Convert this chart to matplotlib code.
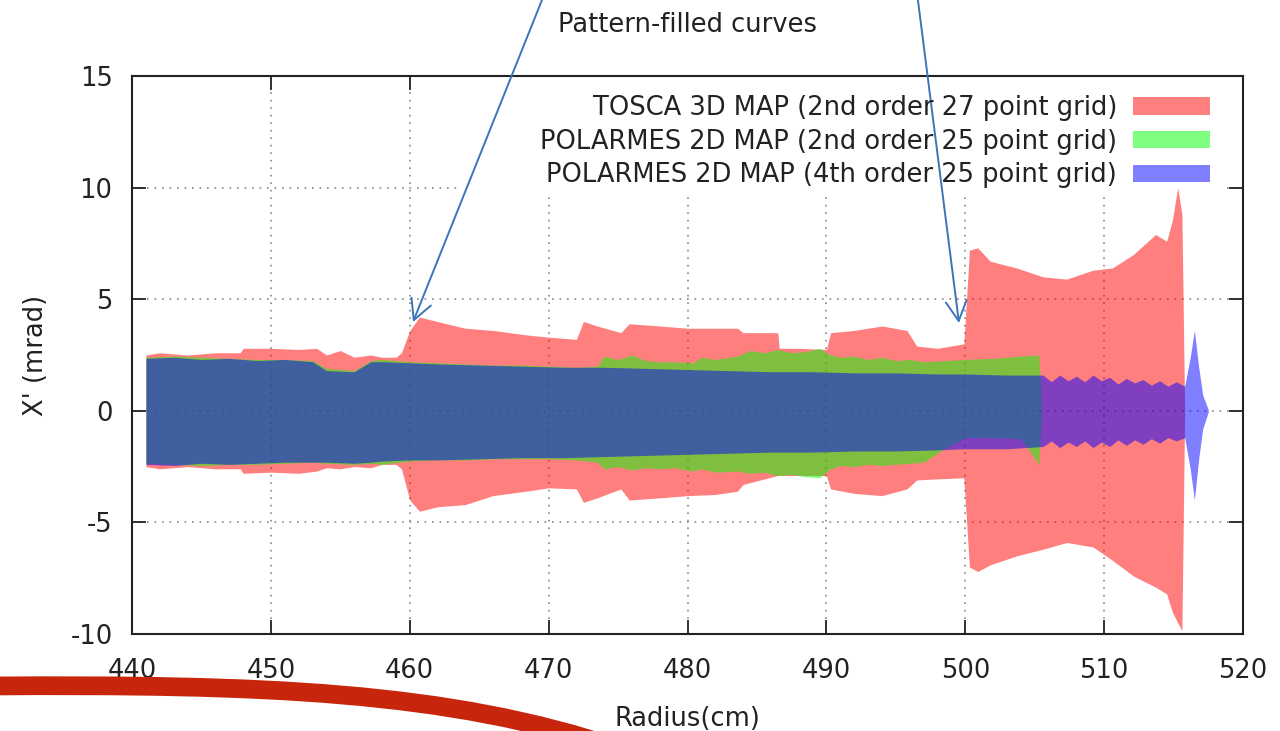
import matplotlib
matplotlib.use("Agg")
import matplotlib.pyplot as plt
from matplotlib.patches import Patch, Rectangle, PathPatch
from matplotlib.path import Path

# TOSCA 3D MAP (2nd order 27 point grid) - envelope of X'
tosca_x = [441.0, 442, 444, 446, 447.8, 448, 450, 452, 453.3, 454, 455, 456, 457.2, 458, 459.0, 459.4,
           460.0, 460.7, 462, 464, 466, 468.4, 470, 472.0, 472.5, 473.5, 475.2, 475.8, 478, 480, 482,
           483.6, 484, 486.5, 486.6, 488, 490.0, 490.3, 492, 494, 495.8, 496.5, 498, 499.9, 500.3,
           500.9, 501.8, 503.7, 505.6, 507.3, 509.2, 510.6, 512.1, 513.7, 514.5, 514.9, 515.3, 515.6, 515.8]
tosca_hi = [2.5, 2.6, 2.5, 2.6, 2.6, 2.8, 2.8, 2.75, 2.8, 2.5, 2.7, 2.4, 2.5, 2.4, 2.4, 2.6,
            3.6, 4.2, 4.0, 3.7, 3.6, 3.4, 3.3, 3.2, 4.0, 3.8, 3.5, 3.9, 3.8, 3.7, 3.7,
            3.7, 3.5, 3.5, 2.8, 2.8, 2.75, 3.5, 3.6, 3.8, 3.6, 2.9, 2.8, 3.0, 7.2,
            7.3, 6.7, 6.4, 6.0, 5.9, 6.3, 6.4, 7.0, 7.9, 7.6, 8.5, 10.0, 8.8, 0.0]
tosca_lo = [-2.5, -2.6, -2.5, -2.6, -2.6, -2.8, -2.75, -2.8, -2.7, -2.55, -2.6, -2.5, -2.55, -2.4, -2.4, -2.6,
            -4.0, -4.5, -4.3, -4.2, -3.8, -3.6, -3.45, -3.5, -4.1, -3.9, -3.5, -4.0, -3.9, -3.8, -3.75,
            -3.6, -3.3, -2.9, -2.9, -2.9, -2.9, -3.5, -3.7, -3.8, -3.5, -3.1, -3.05, -3.0, -7.0,
            -7.2, -6.9, -6.5, -6.2, -5.9, -6.1, -6.7, -7.4, -7.9, -8.2, -9.0, -9.5, -9.85, 0.0]

# POLARMES 2D MAP (2nd order 25 point grid)
pol2_x = [441.0, 443, 445, 447, 449, 451, 453, 454, 456, 457.2, 458, 460, 462, 464, 466, 468, 470, 472,
          473.5, 474, 475, 476, 477, 478, 479, 480.4, 481, 482, 483.6, 484.5, 485.5, 486.5, 487.5,
          488.5, 489.5, 490.3, 491, 492, 493, 494, 495, 496, 497, 498.5, 500, 502, 504, 505.3, 505.5]
pol2_hi = [2.4, 2.45, 2.4, 2.35, 2.3, 2.3, 2.25, 1.9, 1.8, 2.25, 2.3, 2.2, 2.15, 2.1, 2.05, 2.05, 2.0, 1.95,
           2.0, 2.45, 2.3, 2.5, 2.25, 2.2, 2.2, 2.15, 2.4, 2.3, 2.45, 2.7, 2.6, 2.75, 2.6,
           2.65, 2.8, 2.5, 2.4, 2.45, 2.3, 2.4, 2.25, 2.3, 2.2, 2.25, 2.3, 2.35, 2.45, 2.5, 0.0]
pol2_lo = [-2.35, -2.4, -2.45, -2.4, -2.4, -2.35, -2.3, -2.35, -2.4, -2.35, -2.4, -2.25, -2.2, -2.2, -2.15,
           -2.15, -2.15, -2.2, -2.3, -2.6, -2.5, -2.65, -2.55, -2.6, -2.55, -2.7, -2.6, -2.75, -2.7, -2.8,
           -2.75, -2.9, -2.85, -2.95, -3.0, -2.6, -2.45, -2.5, -2.4, -2.45, -2.4, -2.35, -2.3, -1.7, -1.2,
           -1.2, -1.25, -2.4, 0.0]

# POLARMES 2D MAP (4th order 25 point grid)
pol4_x = [441.0, 443, 445, 447, 449, 451, 453, 454, 456, 457.2, 458, 460, 462, 465, 468, 471, 474, 477,
          480, 483, 486, 489, 492, 495, 498, 500, 503, 505.6, 506.2, 506.8, 507.4, 508, 508.6, 509.2,
          509.8, 510.4, 511, 511.6, 512.2, 512.8, 513.4, 514, 514.6, 515.2, 515.8, 516.2, 516.5, 516.8,
          517.1, 517.5]
pol4_hi = [2.35, 2.4, 2.3, 2.35, 2.25, 2.3, 2.2, 1.8, 1.75, 2.2, 2.2, 2.15, 2.1, 2.05, 2.0, 1.95, 1.95, 1.9,
           1.85, 1.8, 1.75, 1.75, 1.7, 1.7, 1.65, 1.65, 1.6, 1.6, 1.3, 1.6, 1.35, 1.55, 1.3, 1.6,
           1.35, 1.5, 1.2, 1.45, 1.25, 1.4, 1.15, 1.35, 1.1, 1.3, 1.1, 2.4, 3.6, 2.0, 0.7, 0.05]
pol4_lo = [-2.4, -2.45, -2.35, -2.4, -2.35, -2.3, -2.3, -2.3, -2.35, -2.3, -2.25, -2.2, -2.2, -2.15, -2.1,
           -2.1, -2.05, -2.0, -1.95, -1.9, -1.85, -1.85, -1.8, -1.8, -1.75, -1.7, -1.7, -1.6, -1.35, -1.65,
           -1.4, -1.6, -1.35, -1.65, -1.4, -1.6, -1.3, -1.55, -1.3, -1.5, -1.25, -1.45, -1.2, -1.35, -1.2,
           -2.6, -4.0, -2.2, -0.8, -0.05]

labels = ["TOSCA 3D MAP (2nd order 27 point grid)",
          "POLARMES 2D MAP (2nd order 25 point grid)",
          "POLARMES 2D MAP (4th order 25 point grid)"]
colors = ["#ff0000", "#00ff00", "#0000ff"]

xticks = [440, 450, 460, 470, 480, 490, 500, 510, 520]
yticks = [-10, -5, 0, 5, 10, 15]

plt.rcParams["font.family"] = ["DejaVu Sans"]
plt.rcParams["axes.unicode_minus"] = False
FS = 18.5
W, H = 1280, 731
fig = plt.figure(figsize=(12.8, 7.31), dpi=100)
ax = fig.add_axes([132 / W, 1 - 634 / H, (1243 - 132) / W, (634 - 76) / H])

series = [(tosca_x, tosca_hi, tosca_lo), (pol2_x, pol2_hi, pol2_lo), (pol4_x, pol4_hi, pol4_lo)]
for (x, hi, lo), c in zip(series, colors):
    ax.fill_between(x, lo, hi, color=c, alpha=0.5, linewidth=0, zorder=2)

ax.set_xlim(440, 520)
ax.set_ylim(-10, 15)
ax.set_xticks(xticks)
ax.set_yticks(yticks)
ax.set_axisbelow(True)
ax.grid(True, color="#888888", linestyle=(0, (1, 3.5)), linewidth=1.2)
ax.tick_params(direction="in", length=10, width=1.3, top=True, right=True,
               labelsize=FS, colors="#222222")
ax.tick_params(axis="x", pad=17)
ax.tick_params(axis="y", pad=14)
for s in ax.spines.values():
    s.set_linewidth(1.5)
    s.set_color("#222222")

# opaque key box hides the grid behind it
ax.add_patch(Rectangle((463.6, 9.78), 518.7 - 463.6, 15 - 9.78, facecolor="white",
                       edgecolor="none", zorder=1))

handles = [Patch(facecolor=c, alpha=0.5, edgecolor="none") for c in colors]
leg = fig.legend(handles, labels, loc="upper right", bbox_to_anchor=(1210 / W, 1 - 95 / H),
                 frameon=False, markerfirst=False, fontsize=FS, handlelength=3.0,
                 handleheight=0.66, handletextpad=0.62, labelspacing=0.3,
                 borderpad=0, borderaxespad=0)
for t in leg.get_texts():
    t.set_color("#222222")

ax.set_xlabel("Radius(cm)", fontsize=FS, color="#222222", labelpad=16)
ax.set_ylabel("X' (mrad)", fontsize=FS, color="#222222", labelpad=15)

fig.text(687 / W, 1 - 25 / H, "Pattern-filled curves", fontsize=FS, color="#222222",
         ha="center", va="center")

# annotation arrows
arrow_col = "#3d74b8"
for (x0, y0), (x1, y1) in [((548, -15), (413, 322)), ((916, -15), (959, 323))]:
    ax.annotate("", xy=(x1, H - y1), xycoords="figure pixels",
                xytext=(x0, H - y0), textcoords="figure pixels",
                arrowprops=dict(arrowstyle="->,head_length=0.95,head_width=0.5",
                                color=arrow_col, lw=1.4, mutation_scale=15,
                                shrinkA=0, shrinkB=0),
                annotation_clip=False, zorder=5)

# red swoosh at the bottom of the slide
verts = [(-10, H - 686), (260, H - 684), (450, H - 691), (620, H - 749)]
swoosh = PathPatch(Path(verts, [Path.MOVETO, Path.CURVE4, Path.CURVE4, Path.CURVE4]),
                   facecolor="none", edgecolor="#c8260c", linewidth=13.5,
                   transform=None, zorder=6)
fig.patches.append(swoosh)

fig.savefig("out.png", dpi=100)
